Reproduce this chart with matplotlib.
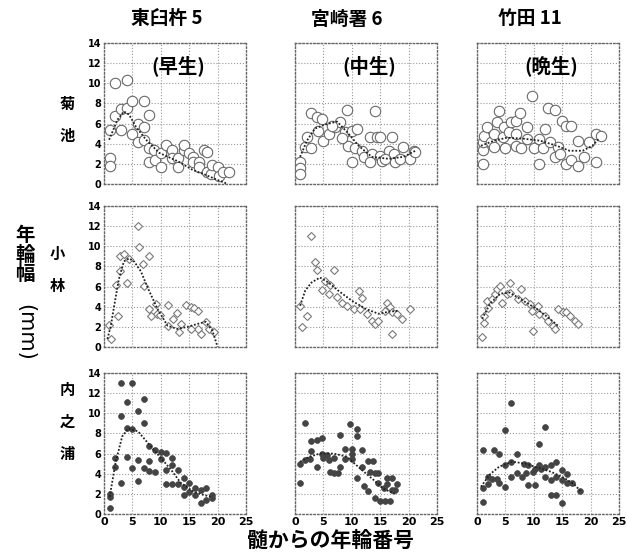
import matplotlib
matplotlib.use("Agg")
import matplotlib.pyplot as plt

plt.rcParams['font.family'] = ['Noto Sans CJK JP', 'DejaVu Sans']

# ---------------- data ----------------
col_titles = ["東臼杵 5", "宮崎署 6", "竹田 11"]
maturity = ["(早生)", "(中生)", "(晩生)"]
row_labels = ["菊\n池", "小\n林", "内\n之\n浦"]
x_ticks = [0, 5, 10, 15, 20, 25]
y_ticks = [0, 2, 4, 6, 8, 10, 12, 14]

# Row 1: 菊池
kik_h5_x = [2, 4, 1, 1, 1, 2, 3, 3, 4, 5, 7, 8, 5, 6, 7, 6, 7, 8, 8.8, 8, 9, 10, 10, 11, 12, 12, 13, 13,
            14, 14, 15, 15.6, 15.6, 16.8, 16.8, 17.6, 18.2, 18.2, 18.8, 19, 20, 20.3, 21, 22]
kik_h5_y = [10, 10.3, 5.4, 2.6, 1.8, 6.8, 5.4, 7.4, 7.5, 8.2, 8.2, 6.9, 5.0, 6.0, 5.7, 4.2, 4.4, 3.6, 3.4, 2.2,
            2.4, 1.7, 3.1, 3.9, 3.4, 2.6, 2.6, 1.7, 3.4, 3.9, 3.1, 2.7, 2.2, 2.2, 1.7, 3.4, 3.2, 1.2, 1.0, 1.9,
            1.7, 0.8, 1.2, 1.2]
kik_h5_cx = [0.9, 2.4, 3.5, 4.4, 5.6, 7.4, 9.7, 13.2, 15.6, 17.9, 20, 21.8]
kik_h5_cy = [4.4, 6.4, 7.2, 6.9, 5.7, 4.4, 3.1, 2.2, 1.4, 0.9, 0.4, 0.0]

kik_m6_x = [0.9, 0.9, 0.9, 1.8, 2.9, 2.1, 2.9, 3.8, 4.7, 4.1, 5.0, 5.9, 7.1, 7.9, 9.1, 8.8, 10.0, 10.9, 9.4,
            10.6, 10, 11.8, 12.1, 13.2, 14.1, 14.4, 15.0, 13.5, 13.2, 15.0, 15.3, 17.1, 16.5, 17.4, 17.6,
            18.5, 19.1, 20.3, 20.9, 21.2, 15.9, 6.5, 8.2]
kik_m6_y = [2.2, 1.6, 1.0, 3.7, 3.6, 4.7, 7.0, 6.7, 6.5, 5.3, 4.3, 5.0, 5.7, 6.2, 7.3, 5.2, 5.3, 5.5, 3.8,
            3.6, 2.2, 3.3, 2.7, 4.7, 7.2, 4.7, 4.7, 3.0, 2.2, 2.8, 2.3, 4.7, 3.3, 3.0, 2.2, 2.5, 3.7, 2.5,
            3.3, 3.2, 2.5, 5.8, 4.6]
kik_m6_cx = [0.9, 2.1, 3.5, 5.3, 7.4, 9.1, 11.2, 13.5, 16.5, 19.1, 21.2]
kik_m6_cy = [2.7, 4.3, 5.5, 5.9, 6.2, 5.2, 3.8, 2.7, 2.5, 2.7, 3.3]

kik_t11_x = [1.0, 1.0, 1.0, 1.3, 1.8, 2.4, 3.0, 3.0, 3.9, 3.6, 4.5, 4.8, 5.0, 5.6, 5.9, 6.8, 7.6, 6.9, 6.8,
             7.7, 8.8, 8.8, 9.7, 10, 10.9, 10.9, 11.7, 12.0, 12.5, 13.7, 12.8, 13.7, 14.3, 14.9, 15.7, 16.6,
             14.6, 15.7, 16.6, 17.7, 17.7, 18.9, 19.8, 20.9, 21.8, 20.9]
kik_t11_y = [2.0, 3.4, 4.2, 4.8, 5.7, 4.2, 3.7, 5.0, 7.2, 6.2, 4.7, 5.7, 3.6, 5.2, 6.2, 6.3, 7.0, 5.0, 3.8,
             3.6, 5.7, 4.5, 8.7, 3.6, 4.5, 2.0, 3.6, 5.5, 7.5, 7.3, 4.2, 2.7, 3.7, 6.3, 5.8, 5.8, 3.0, 2.0,
             2.4, 4.3, 1.8, 2.7, 4.2, 5.0, 4.8, 2.2]
kik_t11_cx = [0.7, 3, 5.3, 8.2, 11.1, 14, 16.3, 18.6, 20.3, 21.5]
kik_t11_cy = [3.8, 4.3, 4.6, 4.5, 4.3, 3.8, 3.3, 3.3, 3.8, 4.5]

# Row 2: 小林
kob_h5_x = [0.9, 1.2, 2.1, 2.4, 2.9, 2.9, 3.5, 4.1, 4.4, 5.9, 6.2, 6.8, 7.1, 7.9, 7.9, 9.1, 9.4, 9.9, 11.2,
            11.2, 12.1, 12.9, 13.2, 13.5, 14.4, 15.3, 15.9, 16.5, 17.1, 17.9, 18.5, 19.4, 16.5, 15.3, 8.2]
kob_h5_y = [2.15, 0.8, 6.2, 3.1, 7.5, 9.0, 9.2, 6.4, 8.7, 12.0, 9.9, 8.2, 6.1, 9.0, 3.8, 4.3, 3.3, 3.2, 4.2,
            2.1, 2.8, 3.4, 1.5, 2.3, 4.2, 4.0, 3.9, 3.6, 1.3, 2.5, 1.8, 1.5, 1.8, 1.8, 3.1]
kob_h5_cx = [0.6, 1.2, 1.8, 2.6, 3.5, 4.4, 5.3, 6.5, 7.6, 9.4, 11.2, 12.9, 14.7, 16.5, 17.9, 19.1, 20]
kob_h5_cy = [0.8, 2.1, 4.1, 6.7, 8.5, 8.8, 8.5, 7.5, 6.0, 3.8, 2.1, 1.8, 2.0, 2.3, 2.5, 1.6, 0.0]

kob_m6_x = [2.9, 1.2, 2.1, 0.9, 3.5, 3.8, 6.8, 5.3, 6.2, 4.7, 5.9, 7.4, 8.2, 9.1, 10.3, 11.8, 11.5, 12.6,
            13.5, 14.1, 14.7, 16.2, 16.8, 17.1, 17.9, 18.8, 20.3, 17.1, 15.9, 11.2]
kob_m6_y = [11.0, 2.0, 3.1, 4.1, 8.4, 7.6, 7.6, 6.6, 6.2, 5.7, 5.3, 5.0, 4.4, 4.1, 3.8, 4.9, 3.8, 3.3, 2.6,
            2.3, 2.6, 4.4, 4.0, 3.5, 3.3, 2.8, 3.8, 1.3, 3.6, 5.6]
kob_m6_cx = [0.9, 1.8, 2.9, 4.4, 5.9, 7.6, 10, 12.4, 14.7, 16.5, 18.2]
kob_m6_cy = [4.1, 5.6, 6.4, 6.9, 6.4, 5.6, 4.6, 3.8, 3.3, 3.5, 3.6]

kob_t11_x = [0.9, 1.2, 1.2, 2.0, 1.7, 2.6, 3.2, 3.5, 4.4, 5.2, 5.8, 7.8, 7.3, 8.4, 9.3, 9.6, 10.8, 11.0, 11.9,
             12.5, 13.4, 13.7, 14.2, 15.1, 15.7, 16.3, 17.2, 17.7, 4.1, 5.8, 9.9]
kob_t11_y = [1.0, 2.4, 3.1, 3.9, 4.6, 4.8, 5.3, 5.8, 4.4, 5.3, 5.4, 5.8, 4.8, 4.6, 4.3, 3.6, 4.1, 3.3, 3.1,
             2.6, 2.1, 1.8, 3.8, 3.5, 3.5, 3.1, 2.6, 2.3, 6.1, 6.4, 1.6]
kob_t11_cx = [0.9, 2.3, 4.1, 5.8, 8.1, 10.5, 12.8, 14.5]
kob_t11_cy = [2.8, 4.3, 5.3, 5.4, 4.6, 3.8, 2.8, 2.0]

# Row 3: 内之浦
uch_h5_x = [1, 1, 1, 2, 2, 3, 3, 3, 4, 4, 4, 5, 5, 5, 6, 6, 6, 7, 7, 7, 8, 8, 8, 9, 9, 10, 10, 11, 11, 11,
            12, 12, 12, 13, 13, 14, 14, 14, 15, 15, 16, 16, 17, 17, 18, 18, 19, 19]
uch_h5_y = [0.6, 1.7, 2.0, 4.7, 5.6, 13.0, 9.7, 3.1, 11.1, 8.5, 5.7, 13.0, 8.4, 4.6, 10.2, 5.4, 3.3, 11.4,
            9.0, 4.6, 6.8, 5.3, 4.3, 6.4, 4.2, 6.2, 5.5, 6.1, 4.4, 3.0, 5.6, 4.9, 3.0, 4.4, 3.0, 3.6, 2.7,
            1.9, 3.1, 2.2, 2.6, 1.9, 2.4, 1.1, 2.6, 1.4, 1.9, 1.6]
uch_h5_cx = [1, 2, 3.2, 4.3, 6, 7.8, 9.8, 11.8, 13.5, 15.8, 17.5, 18.9]
uch_h5_cy = [1.7, 5.0, 7.7, 8.5, 8.2, 7.0, 5.7, 4.4, 3.1, 2.2, 1.9, 1.7]

uch_m6_x = [0.9, 0.9, 1.8, 1.8, 2.6, 2.9, 2.9, 3.8, 3.8, 4.7, 4.7, 5, 5.6, 5.9, 6.2, 6.8, 6.8, 7.6, 7.9,
            7.9, 8.8, 8.8, 9.7, 10, 10, 10, 10.9, 10.9, 10.9, 11.8, 11.8, 12.1, 12.9, 12.9, 13.2, 13.8,
            14.1, 14.1, 14.7, 14.7, 15, 15.6, 15.9, 16.2, 16.8, 17.1, 17.1, 17.6, 17.9, 16.2]
uch_m6_y = [3.1, 5.0, 9.0, 5.4, 5.5, 6.3, 7.2, 7.3, 4.7, 7.5, 6.0, 5.6, 5.9, 5.4, 4.2, 5.6, 4.1, 4.1, 7.8,
            4.7, 6.5, 5.5, 8.9, 6.5, 6.0, 5.5, 8.4, 7.7, 3.6, 6.4, 4.7, 2.8, 5.3, 2.3, 4.2, 5.3, 4.1, 1.6,
            3.1, 4.1, 1.3, 2.6, 1.3, 3.6, 1.3, 3.6, 2.4, 2.4, 3.0, 3.0]
uch_m6_cx = [0.9, 2.6, 4.4, 6.8, 9.1, 11.5, 13.8, 15.6, 16.8, 17.6]
uch_m6_cy = [5.2, 5.7, 6.0, 6.0, 5.7, 4.5, 3.4, 2.5, 2.2, 2.0]

uch_t11_x = [1.0, 1.0, 1.0, 1.9, 1.9, 3.0, 2.7, 3.6, 3.9, 3.9, 5.0, 5.0, 5.0, 5.9, 5.9, 5.9, 7.0, 7.0, 7.9,
             8.2, 8.7, 9.0, 9.0, 9.9, 10.2, 10.2, 11.0, 11.0, 11.3, 12.0, 12.0, 12.0, 13.0, 13.0, 13.0,
             13.9, 13.9, 13.9, 15.0, 15.0, 15.0, 15.9, 15.9, 16.7, 18.2]
uch_t11_y = [6.4, 2.6, 1.2, 3.7, 3.0, 6.4, 3.5, 3.5, 6.0, 3.1, 8.3, 2.7, 4.9, 11.0, 5.2, 3.7, 6.0, 4.1, 3.7,
             5.0, 4.1, 2.9, 4.9, 4.2, 2.9, 4.5, 7.0, 4.9, 4.5, 8.6, 4.7, 3.7, 4.9, 1.9, 3.4, 5.2, 1.9, 3.7,
             4.4, 1.1, 3.4, 4.0, 3.1, 3.1, 2.3]
uch_t11_cx = [0.7, 2.2, 3.9, 6.2, 8.5, 10.7, 13, 15.3, 17, 18.2]
uch_t11_cy = [2.7, 3.9, 4.7, 5.2, 5.0, 4.6, 4.2, 3.6, 3.0, 2.3]

points = [
    [(kik_h5_x, kik_h5_y, kik_h5_cx, kik_h5_cy), (kik_m6_x, kik_m6_y, kik_m6_cx, kik_m6_cy),
     (kik_t11_x, kik_t11_y, kik_t11_cx, kik_t11_cy)],
    [(kob_h5_x, kob_h5_y, kob_h5_cx, kob_h5_cy), (kob_m6_x, kob_m6_y, kob_m6_cx, kob_m6_cy),
     (kob_t11_x, kob_t11_y, kob_t11_cx, kob_t11_cy)],
    [(uch_h5_x, uch_h5_y, uch_h5_cx, uch_h5_cy), (uch_m6_x, uch_m6_y, uch_m6_cx, uch_m6_cy),
     (uch_t11_x, uch_t11_y, uch_t11_cx, uch_t11_cy)],
]

# ---------------- drawing ----------------
W, H = 627, 556
fig = plt.figure(figsize=(W / 100, H / 100), dpi=100)

col_left = [104, 295, 477]
row_top = [43, 206, 373]
aw, ah = 142, 141

row_styles = [
    dict(marker='o', ms=7.5, mfc='white', mec='#6a6a6a', mew=0.8, ls='none'),
    dict(marker='D', ms=3.6, mfc='white', mec='#7a7a7a', mew=0.8, ls='none'),
    dict(marker='o', ms=4.2, mfc='#444444', mec='#444444', mew=0.5, ls='none'),
]

for r in range(3):
    for c in range(3):
        ax = fig.add_axes([col_left[c] / W, 1 - (row_top[r] + ah) / H, aw / W, ah / H])
        xs, ys, cxs, cys = points[r][c]
        ax.plot(xs, ys, **row_styles[r], zorder=3)
        ax.plot(cxs, cys, ls=(0, (1, 1)), color='#222222', lw=1.3, zorder=4)
        ax.set_xlim(0, 25)
        ax.set_ylim(0, 14)
        ax.set_xticks(x_ticks)
        ax.set_yticks(y_ticks)
        ax.grid(True, ls=':', color='#999999', lw=0.8)
        ax.set_axisbelow(True)
        for s in ax.spines.values():
            s.set_linestyle(':')
            s.set_color('#666666')
            s.set_linewidth(1.0)
        ax.tick_params(length=0, pad=2)
        if c == 0:
            ax.set_yticklabels([str(v) for v in y_ticks], fontsize=7, fontweight='bold', family='DejaVu Sans')
        else:
            ax.set_yticklabels([])
        if r == 2:
            ax.set_xticklabels([str(v) for v in x_ticks], fontsize=8, fontweight='bold', family='DejaVu Sans')
        else:
            ax.set_xticklabels([])
        if r == 0:
            ax.text(0.52, 0.84, maturity[c], transform=ax.transAxes, ha='center', va='center',
                    fontsize=14, fontweight='bold')

# column titles
title_x = [167, 347, 530]
for c in range(3):
    fig.text(title_x[c] / W, 1 - 19 / H, col_titles[c], ha='center', va='center',
             fontsize=13.5, fontweight='bold')

# row labels
row_lab_pos = [(67, 120), (57, 270), (67, 422)]
for r in range(3):
    fig.text(row_lab_pos[r][0] / W, 1 - row_lab_pos[r][1] / H, row_labels[r], ha='center', va='center',
             fontsize=11, fontweight='bold', linespacing=2.2)

# overall y label
fig.text(25 / W, 1 - 255 / H, "年\n輪\n幅", ha='center', va='center', fontsize=14, fontweight='bold',
         linespacing=1.0)
fig.text(25 / W, 1 - 332 / H, "(mm)", ha='center', va='center', fontsize=15, rotation=-90,
         family='DejaVu Sans')

# x label
fig.text(331 / W, 1 - 540 / H, "髄からの年輪番号", ha='center', va='center', fontsize=15, fontweight='bold')

fig.savefig("out.png", dpi=100)
